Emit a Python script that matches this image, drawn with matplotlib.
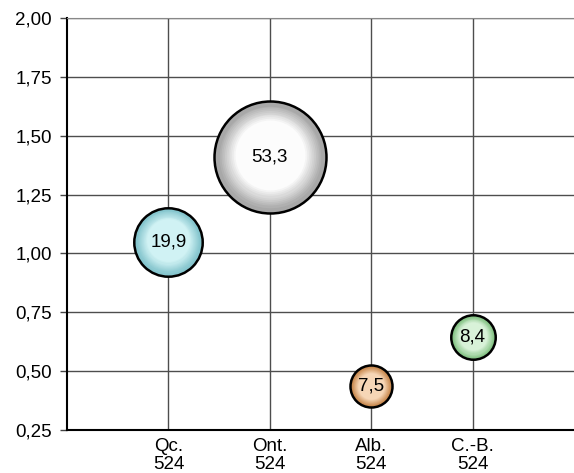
import numpy as np
import matplotlib
matplotlib.use('Agg')
import matplotlib.pyplot as plt
from matplotlib.colors import to_rgb
from matplotlib.transforms import offset_copy

plt.rcParams['font.family'] = ['Liberation Sans', 'DejaVu Sans']

# data
provinces = ['Qc.', 'Ont.', 'Alb.', 'C.-B.']
counts = ['524', '524', '524', '524']
y_vals = [1.05, 1.41, 0.435, 0.645]
sizes = [19.9, 53.3, 7.5, 8.4]
size_labels = ['19,9', '53,3', '7,5', '8,4']
edge_cols = ['#86c6ce', '#a8a8a8', '#c98a50', '#86c486']
mid_cols = ['#d0f2f4', '#fcfcfc', '#f6d6b6', '#d8f2d8']

x = np.arange(1, len(provinces) + 1)
yticks = [0.25, 0.5, 0.75, 1.0, 1.25, 1.5, 1.75, 2.0]

fig = plt.figure(figsize=(5.74, 4.73), dpi=100)
ax = fig.add_axes([67/574, 43/473, 507/574, 412/473])

ax.set_xlim(0, 5)
ax.set_ylim(0.25, 2.0)
ax.set_yticks(yticks)
ax.set_yticklabels([f'{v:.2f}'.replace('.', ',') for v in yticks], fontsize=13.5)
ax.set_xticks(x)
ax.set_xticklabels([f'{p}\n{c}' for p, c in zip(provinces, counts)], fontsize=13.5, linespacing=1.05)
ax.tick_params(axis='x', length=0, pad=6)
ax.tick_params(axis='y', length=5, width=1, color='#444444', pad=6)
ax.grid(True, color='#4d4d4d', linewidth=1)
ax.set_axisbelow(True)

ax.spines['right'].set_visible(False)
ax.spines['top'].set_color('#888888')
ax.spines['left'].set_linewidth(1.5)
ax.spines['bottom'].set_linewidth(1.5)

scale = 122
n_layers = 30
for xi, yi, sz, ec, mc, lab in zip(x, y_vals, sizes, edge_cols, mid_cols, size_labels):
    base = sz * scale
    r_pt = np.sqrt(base) / 2
    ax.scatter(xi, yi, s=base, color=ec, edgecolors='black', linewidths=1.8, zorder=3)
    c0 = np.array(to_rgb(ec))
    c1 = np.array(to_rgb(mc))
    for k in range(1, n_layers):
        f = k / n_layers
        col = c0 + (c1 - c0) * min(1, f * 3.0)
        tr = offset_copy(ax.transData, fig=fig, x=0, y=r_pt * 0.12 * f, units='points')
        ax.scatter(xi, yi, s=base * (1 - f) ** 2 * 0.88, color=col, linewidths=0,
                   zorder=3, transform=tr)
    ax.text(xi, yi, lab, ha='center', va='center', fontsize=13.5, zorder=4)

fig.savefig('out.png', dpi=100)
